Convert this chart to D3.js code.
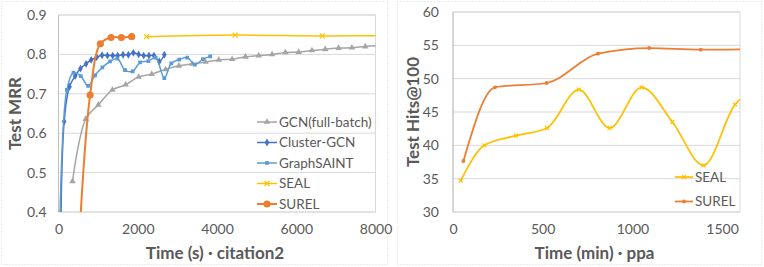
<!DOCTYPE html>
<html>
<head>
<meta charset="utf-8">
<script src="https://cdn.jsdelivr.net/npm/d3@7"></script>
<style>
body { margin: 0; background: #fff; }
text { font-family: Lato, "Open Sans", sans-serif; }
</style>
</head>
<body>
<svg id="chart" width="764" height="267"></svg>
<script>

// ---DATA: citation2 (left)---//
var citeTicksX = [0, 2000, 4000, 6000, 8000];
var citeTicksY = [0.4, 0.5, 0.6, 0.7, 0.8, 0.9];

var gcnTime = [353, 687, 1005, 1360, 1696, 2023, 2351, 2703, 3039, 3375, 3711, 4046, 4382, 4718, 5054, 5390, 5725, 6061, 6397, 6733, 7069, 7404, 7740, 8076];
var gcnMrr = [0.478, 0.636, 0.672, 0.710, 0.723, 0.743, 0.750, 0.762, 0.771, 0.776, 0.781, 0.786, 0.788, 0.794, 0.797, 0.800, 0.805, 0.806, 0.810, 0.813, 0.816, 0.817, 0.820, 0.822];

var clusterTime = [40, 143, 277, 420, 554, 697, 823, 965, 1100, 1234, 1368, 1494, 1629, 1763, 1889, 2023, 2149, 2283, 2409, 2544, 2670];
var clusterMrr = [0.18, 0.630, 0.718, 0.745, 0.764, 0.776, 0.786, 0.793, 0.798, 0.797, 0.797, 0.797, 0.799, 0.799, 0.804, 0.800, 0.797, 0.797, 0.797, 0.782, 0.799];

var saintTime = [20, 210, 378, 562, 747, 923, 1108, 1301, 1486, 1679, 1872, 2057, 2267, 2451, 2670, 2846, 3047, 3249, 3442, 3643, 3828];
var saintMrr = [0.30, 0.710, 0.754, 0.745, 0.720, 0.747, 0.767, 0.782, 0.789, 0.760, 0.757, 0.780, 0.783, 0.792, 0.740, 0.777, 0.787, 0.792, 0.774, 0.788, 0.795];

var sealCiteTime = [2225, 4458, 6657, 8900];
var sealCiteMrr = [0.845, 0.849, 0.847, 0.848];

var surelCiteTime = [480, 798, 1058, 1326, 1587, 1847];
var surelCiteMrr = [0.25, 0.697, 0.827, 0.843, 0.843, 0.845];

// ---DATA: ppa (right)---//
var ppaTicksX = [0, 500, 1000, 1500];
var ppaTicksY = [30, 35, 40, 45, 50, 55, 60];

var sealPpaTime = [43, 175, 351, 524, 702, 873, 1052, 1223, 1397, 1572, 1700];
var sealPpaHits = [34.7, 40.0, 41.45, 42.6, 48.35, 42.6, 48.7, 43.5, 37.0, 46.1, 48.5];

var surelPpaTime = [58, 234, 522, 808, 1094, 1381, 1700];
var surelPpaHits = [37.65, 48.7, 49.35, 53.75, 54.6, 54.35, 54.45];

// ---STYLE---//
var textColor = "#595959";
var gridColor = "#d9d9d9";

var svg = d3.select("#chart");

function zip(xs, ys) {
	return xs.map(function(x, i) { return { x: x, y: ys[i] }; });
}

function markerPath(shape, s) {
	if (shape === "x") {
		return "M" + (-s) + "," + (-s) + "L" + s + "," + s + "M" + (-s) + "," + s + "L" + s + "," + (-s);
	}
	var types = { triangle: d3.symbolTriangle, diamond: d3.symbolDiamond, square: d3.symbolSquare, circle: d3.symbolCircle };
	return d3.symbol().type(types[shape]).size(s)();
}

function drawMarker(g, shape, s, color) {
	var p = g.append("path").attr("d", markerPath(shape, s));
	if (shape === "x") {
		p.attr("fill", "none").attr("stroke", color).attr("stroke-width", 1.2);
	} else {
		p.attr("fill", color);
	}
	return p;
}

function drawPanel(cfg) {

	// outer chart area
	svg.append("rect")
		.attr("x", cfg.box[0]).attr("y", cfg.box[1])
		.attr("width", cfg.box[2]).attr("height", cfg.box[3])
		.attr("fill", "none").attr("stroke", gridColor)
		.attr("stroke-dasharray", "1,2");

	var x = d3.scaleLinear().domain(cfg.xDomain).range([cfg.left, cfg.right]);
	var y = d3.scaleLinear().domain(cfg.yDomain).range([cfg.bottom, cfg.top]);

	var g = svg.append("g");

	// gridlines
	g.selectAll("line.grid").data(cfg.yTicks).enter().append("line")
		.attr("x1", cfg.left).attr("x2", cfg.right)
		.attr("y1", function(d) { return y(d); })
		.attr("y2", function(d) { return y(d); })
		.attr("stroke", gridColor).attr("stroke-width", 1);

	// plot border
	g.append("rect")
		.attr("x", cfg.left).attr("y", cfg.top)
		.attr("width", cfg.right - cfg.left).attr("height", cfg.bottom - cfg.top)
		.attr("fill", "none").attr("stroke", gridColor);
	g.append("line")
		.attr("x1", cfg.left).attr("x2", cfg.left)
		.attr("y1", cfg.top).attr("y2", cfg.bottom)
		.attr("stroke", "#bfbfbf");

	// axes
	var yAxis = d3.axisLeft(y).tickValues(cfg.yTicks).tickSize(0).tickPadding(cfg.yPad)
		.tickFormat(cfg.yFormat);
	var ya = g.append("g").attr("transform", "translate(" + cfg.left + ",0)").call(yAxis);
	var xAxis = d3.axisBottom(x).tickValues(cfg.xTicks).tickSize(0).tickPadding(12)
		.tickFormat(d3.format("d"));
	var xa = g.append("g").attr("transform", "translate(0," + cfg.bottom + ")").call(xAxis);
	[ya, xa].forEach(function(a) {
		a.select(".domain").remove();
		a.selectAll("text").attr("fill", textColor).attr("font-size", "14px")
			.style("font-family", "Lato, 'Open Sans', sans-serif");
	});

	// axis titles
	g.append("text")
		.attr("x", (cfg.left + cfg.right) / 2 - 2).attr("y", 259)
		.attr("text-anchor", "middle").attr("font-weight", "bold")
		.attr("font-size", "17px").attr("fill", textColor)
		.text(cfg.xTitle);
	g.append("text")
		.attr("transform", "translate(" + cfg.yTitleX + "," + ((cfg.top + cfg.bottom) / 2) + ") rotate(-90)")
		.attr("text-anchor", "middle").attr("dy", "0.35em").attr("font-weight", "bold")
		.attr("font-size", "17px").attr("fill", textColor)
		.text(cfg.yTitle);

	// clip
	svg.append("clipPath").attr("id", cfg.id + "clip").append("rect")
		.attr("x", cfg.left).attr("y", cfg.top)
		.attr("width", cfg.right - cfg.left).attr("height", cfg.bottom - cfg.top);

	var plot = svg.append("g").attr("clip-path", "url(#" + cfg.id + "clip)");

	cfg.series.forEach(function(s) {
		var line = d3.line()
			.x(function(d) { return x(d.x); })
			.y(function(d) { return y(d.y); })
			.curve(cfg.curve);

		plot.append("path").datum(s.data)
			.attr("d", line)
			.attr("fill", "none").attr("stroke", s.color)
			.attr("stroke-width", s.width);

		s.data.forEach(function(d) {
			drawMarker(plot, s.shape, s.size, s.color)
				.attr("transform", "translate(" + x(d.x) + "," + y(d.y) + ")");
		});
	});

	// legend
	cfg.series.forEach(function(s, i) {
		var ly = cfg.legend.y + i * cfg.legend.step;
		var lg = svg.append("g");
		lg.append("line")
			.attr("x1", cfg.legend.x).attr("x2", cfg.legend.x + cfg.legend.len)
			.attr("y1", ly).attr("y2", ly)
			.attr("stroke", s.color).attr("stroke-width", s.width);
		drawMarker(lg, s.shape, s.size, s.color)
			.attr("transform", "translate(" + (cfg.legend.x + cfg.legend.len / 2) + "," + ly + ")");
		lg.append("text")
			.attr("x", cfg.legend.x + cfg.legend.len + 2).attr("y", ly)
			.attr("dy", "0.35em").attr("font-size", "13.5px").attr("fill", textColor)
			.text(s.name);
	});

}// END: drawPanel

drawPanel({
	id: "cite",
	box: [1.5, 1.5, 386, 263],
	left: 58.5, right: 375.5, top: 15, bottom: 212,
	xDomain: [0, 8000], yDomain: [0.4, 0.9],
	xTicks: citeTicksX, yTicks: citeTicksY,
	yFormat: d3.format(".1f"), yPad: 12,
	xTitle: "Time (s) \u00b7 citation2", yTitle: "Test MRR", yTitleX: 15,
	curve: d3.curveCatmullRom.alpha(0.5),
	legend: { x: 257, len: 20, y: 122, step: 20.5 },
	series: [
		{ name: "GCN(full-batch)", data: zip(gcnTime, gcnMrr), color: "#a5a5a5", shape: "triangle", size: 18, width: 1.5 },
		{ name: "Cluster-GCN", data: zip(clusterTime, clusterMrr), color: "#4472c4", shape: "diamond", size: 18, width: 1.5 },
		{ name: "GraphSAINT", data: zip(saintTime, saintMrr), color: "#5b9bd5", shape: "square", size: 14, width: 1.5 },
		{ name: "SEAL", data: zip(sealCiteTime, sealCiteMrr), color: "#ffc000", shape: "x", size: 2.5, width: 1.5 },
		{ name: "SUREL", data: zip(surelCiteTime, surelCiteMrr), color: "#ed7d31", shape: "circle", size: 40, width: 2 }
	]
});

drawPanel({
	id: "ppa",
	box: [397.5, 1.5, 364, 263],
	left: 453, right: 740, top: 12, bottom: 212,
	xDomain: [0, 1600], yDomain: [30, 60],
	xTicks: ppaTicksX, yTicks: ppaTicksY,
	yFormat: d3.format("d"), yPad: 14,
	xTitle: "Time (min) \u00b7 ppa", yTitle: "Test Hits@100", yTitleX: 413,
	curve: d3.curveMonotoneX,
	legend: { x: 675, len: 18, y: 177, step: 24.5 },
	series: [
		{ name: "SEAL", data: zip(sealPpaTime, sealPpaHits), color: "#ffc000", shape: "x", size: 2, width: 1.75 },
		{ name: "SUREL", data: zip(surelPpaTime, surelPpaHits), color: "#ed7d31", shape: "circle", size: 12, width: 1.75 }
	]
});

</script>
</body>
</html>
